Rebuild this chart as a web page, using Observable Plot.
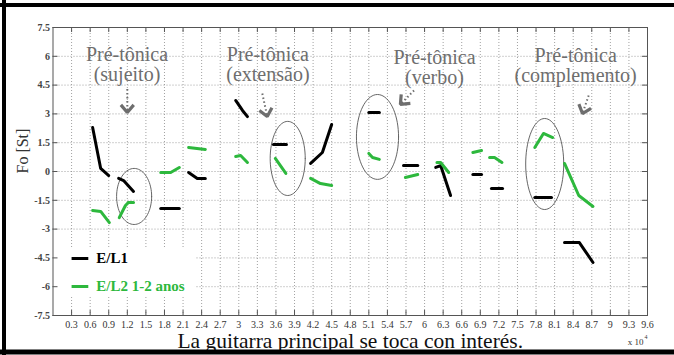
<!DOCTYPE html>
<html><head><meta charset="utf-8">
<script src="https://cdn.jsdelivr.net/npm/d3@7"></script>
<script src="https://cdn.jsdelivr.net/npm/@observablehq/plot@0.6"></script>
<style>
body{margin:0;background:#fff}
#chart{width:674px;height:355px}
#chart svg, #chart svg text{font-family:"Liberation Serif","Times New Roman",serif !important}
</style>
</head><body><div id="chart"></div>
<script>
// ---- data (x in units of 10^4, y in semitones) ----
const seriesNames = ["E/L1", "E/L2 1-2 anos"];
const seriesColors = ["#000000", "#2db83d"];

const el1Segments = [
  [[0.64, 2.29], [0.77, 0.16], [0.90, -0.21]],
  [[1.06, -0.36], [1.14, -0.47], [1.30, -1.04]],
  [[1.74, -1.93], [2.04, -1.93]],
  [[2.19, -0.05], [2.33, -0.36], [2.46, -0.36]],
  [[2.95, 3.70], [3.06, 3.18], [3.14, 2.86]],
  [[3.56, 1.41], [3.77, 1.41]],
  [[4.16, 0.42], [4.35, 0.99], [4.50, 2.45]],
  [[5.10, 3.07], [5.27, 3.07]],
  [[5.66, 0.31], [5.89, 0.31]],
  [[6.18, 0.21], [6.26, 0.31], [6.42, -1.25]],
  [[6.78, -0.16], [6.92, -0.16]],
  [[7.08, -0.89], [7.26, -0.89]],
  [[7.78, -1.35], [8.05, -1.35]],
  [[8.26, -3.70], [8.50, -3.70], [8.72, -4.74]]
];

const el2Segments = [
  [[0.64, -2.03], [0.77, -2.08], [0.91, -2.66]],
  [[1.07, -2.40], [1.17, -1.77], [1.22, -1.61], [1.30, -1.61]],
  [[1.74, -0.05], [1.90, -0.05], [2.04, 0.21]],
  [[2.19, 1.25], [2.46, 1.15]],
  [[2.95, 0.78], [3.03, 0.83], [3.14, 0.47]],
  [[3.59, 0.68], [3.76, -0.10]],
  [[4.16, -0.36], [4.32, -0.63], [4.50, -0.73]],
  [[5.10, 0.94], [5.16, 0.73], [5.27, 0.63]],
  [[5.69, -0.31], [5.89, -0.16]],
  [[6.20, 0.47], [6.26, 0.47], [6.39, -0.05]],
  [[6.78, 0.99], [6.92, 1.09]],
  [[7.05, 0.73], [7.13, 0.73], [7.25, 0.47]],
  [[7.78, 1.25], [7.92, 1.98], [8.07, 1.77]],
  [[8.26, 0.42], [8.49, -1.25], [8.72, -1.82]]
];

const xTicks = [0.3,0.6,0.9,1.2,1.5,1.8,2.1,2.4,2.7,3,3.3,3.6,3.9,4.2,4.5,4.8,5.1,5.4,5.7,6,6.3,6.6,6.9,7.2,7.5,7.8,8.1,8.4,8.7,9,9.3,9.6];
const yTicks = [-7.5,-6,-4.5,-3,-1.5,0,1.5,3,4.5,6,7.5];

// annotations
const noteLines1 = ["Pré-tônica", "Pré-tônica", "Pré-tônica", "Pré-tônica"];
const noteLines2 = ["(sujeito)", "(extensão)", "(verbo)", "(complemento)"];
const noteX = [1.195, 3.47, 6.16, 8.44];
const noteY1 = [6.09, 6.09, 5.94, 6.04];
const noteY2 = [5.05, 5.05, 4.90, 5.00];

const ellipseCx = [1.31, 3.79, 5.24, 7.94];
const ellipseCy = [-1.30, 0.68, 1.80, 0.39];
const ellipseRx = [0.283, 0.283, 0.34, 0.307];
const ellipseRy = [1.46, 1.93, 2.21, 2.37];

const arrowStartX = [1.20, 3.38, 5.83, 8.65];
const arrowStartY = [4.30, 4.06, 4.22, 3.96];
const arrowTipX = [1.20, 3.46, 5.61, 8.55];
const arrowTipY = [3.07, 2.86, 3.50, 3.02];

const captionText = "La guitarra principal se toca con interés.";
const yLabel = "Fo [St]";

// ---- layout ----
const W = 674, H = 355, mL = 52.5, mR = 27, mT = 27, mB = 40;
const plotW = W - mL - mR, plotH = H - mT - mB;
const xDomain = [0, 9.6], yDomain = [-7.5, 7.5];
const sx = plotW / (xDomain[1] - xDomain[0]), sy = plotH / (yDomain[1] - yDomain[0]);
const gray = "#6e6e6e";
const serif = "Liberation Serif";

// ---- tables built from arrays ----
function flatten(segs, series) {
  const out = [];
  segs.forEach((seg, i) => seg.forEach(([x, y]) => out.push({x, y, seg: series + i, series})));
  return out;
}
const lineData = [...flatten(el1Segments, seriesNames[0]), ...flatten(el2Segments, seriesNames[1])];

const ellipsePts = [];
ellipseCx.forEach((cx, i) => {
  for (let k = 0; k <= 72; k++) {
    const t = (k / 72) * 2 * Math.PI;
    ellipsePts.push({e: i, x: cx + ellipseRx[i] * Math.cos(t), y: ellipseCy[i] + ellipseRy[i] * Math.sin(t)});
  }
});
const notes = noteX.map((x, i) => ({x, y1: noteY1[i], y2: noteY2[i], t1: noteLines1[i], t2: noteLines2[i]}));
const arrows = arrowTipX.map((x, i) => ({x1: arrowStartX[i], y1: arrowStartY[i], x2: x, y2: arrowTipY[i]}));
// chevron heads (arm length and half-angle in screen pixels)
const headLen = 10, headHalf = 40 * Math.PI / 180;
const headPts = [];
arrows.forEach((a, i) => {
  const dxp = (a.x2 - a.x1) * sx, dyp = -(a.y2 - a.y1) * sy;
  const L = Math.hypot(dxp, dyp), ux = dxp / L, uy = dyp / L;
  const arm = s => {
    const c = Math.cos(s * headHalf), sn = Math.sin(s * headHalf);
    const bx = -(ux * c - uy * sn) * headLen, by = -(ux * sn + uy * c) * headLen;
    return {x: a.x2 + bx / sx, y: a.y2 - by / sy};
  };
  const p1 = arm(1), p2 = arm(-1);
  headPts.push({h: i, x: p1.x, y: p1.y}, {h: i, x: a.x2, y: a.y2}, {h: i, x: p2.x, y: p2.y});
});

const chart = Plot.plot({
  width: W, height: H,
  marginLeft: mL, marginRight: mR, marginTop: mT, marginBottom: mB,
  style: {fontFamily: serif, background: "white", overflow: "visible"},
  x: {domain: xDomain},
  y: {domain: yDomain},
  color: {domain: seriesNames, range: seriesColors},
  marks: [
    Plot.gridX(xTicks, {stroke: "#8a8a8a", strokeOpacity: 0.8, strokeDasharray: "1,2"}),
    Plot.gridY(yTicks, {stroke: "#8a8a8a", strokeOpacity: 0.8, strokeDasharray: "1,2"}),
    // legend background
    Plot.rect([0], {x1: 0, x2: 2.3, y1: -6.56, y2: -3.96, fill: "white"}),
    Plot.frame({stroke: "#555", strokeWidth: 1}),
    Plot.tickX(xTicks, {x: d => d, insetTop: plotH - 5, stroke: "#555"}),
    Plot.tickX(xTicks, {x: d => d, insetBottom: plotH - 5, stroke: "#555"}),
    Plot.tickY(yTicks, {y: d => d, insetRight: plotW - 5, stroke: "#555"}),
    Plot.tickY(yTicks, {y: d => d, insetLeft: plotW - 5, stroke: "#555"}),
    Plot.axisX(xTicks, {tickSize: 0, tickPadding: 5, tickFormat: d => String(d), fontSize: 10, fontFamily: serif, fill: "#333", label: null}),
    Plot.axisY(yTicks, {tickSize: 0, tickPadding: 3, tickFormat: d => String(d), fontSize: 10, fontFamily: serif, fontWeight: "bold", fill: "#444", label: null}),
    // ellipses
    Plot.line(ellipsePts, {x: "x", y: "y", z: "e", stroke: "#555", strokeWidth: 0.9, curve: "linear"}),
    // annotation arrows
    Plot.link(arrows, {x1: "x1", y1: "y1", x2: "x2", y2: "y2", stroke: gray, strokeWidth: 2, strokeDasharray: "1.5,2.5"}),
    Plot.line(headPts, {x: "x", y: "y", z: "h", stroke: gray, strokeWidth: 3.2, strokeLinejoin: "miter", strokeLinecap: "butt"}),
    // annotation texts
    Plot.text(notes, {x: "x", y: "y1", text: "t1", fill: gray, fontSize: 20, fontFamily: serif}),
    Plot.text(notes, {x: "x", y: "y2", text: "t2", fill: gray, fontSize: 20, fontFamily: serif}),
    // data
    Plot.line(lineData, {x: "x", y: "y", z: "seg", stroke: "series", strokeWidth: 3, strokeLinejoin: "round"}),
    // legend
    Plot.link(seriesNames, {x1: 0.30, x2: 0.57, y1: (d, i) => [-4.53, -5.99][i], y2: (d, i) => [-4.53, -5.99][i], stroke: d => d, strokeWidth: 3}),
    Plot.text(seriesNames, {x: 0.70, y: (d, i) => [-4.53, -5.99][i], text: d => d, fill: d => d, textAnchor: "start", fontWeight: "bold", fontSize: 15, fontFamily: serif}),
    // axis labels / caption
    Plot.text([yLabel], {frameAnchor: "left", rotate: -90, dx: -30.5, dy: 2, text: d => d, fontSize: 16, fill: "#333", fontFamily: serif}),
    Plot.text([captionText], {frameAnchor: "bottom", lineAnchor: "bottom", dy: 32, text: d => d, fontSize: 21.5, fill: "#111", fontFamily: serif}),
    Plot.text(["x 10"], {frameAnchor: "bottom-right", textAnchor: "end", dx: -4, dy: 29, text: d => d, fontSize: 9, fill: "#333", fontFamily: serif}),
    Plot.text(["4"], {frameAnchor: "bottom-right", textAnchor: "start", dx: -3, dy: 23, text: d => d, fontSize: 6, fill: "#333", fontFamily: serif})
  ]
});

// outer picture frame
const svg = d3.select(chart);
svg.append("line").attr("x1", 0).attr("x2", W).attr("y1", 5).attr("y2", 5).attr("stroke", "black").attr("stroke-width", 4);
svg.append("line").attr("x1", 4).attr("x2", 4).attr("y1", 0).attr("y2", H).attr("stroke", "black").attr("stroke-width", 4);
svg.append("line").attr("x1", 0).attr("x2", W).attr("y1", 352).attr("y2", 352).attr("stroke", "black").attr("stroke-width", 5);

document.getElementById("chart").append(chart);
</script>
</body></html>
